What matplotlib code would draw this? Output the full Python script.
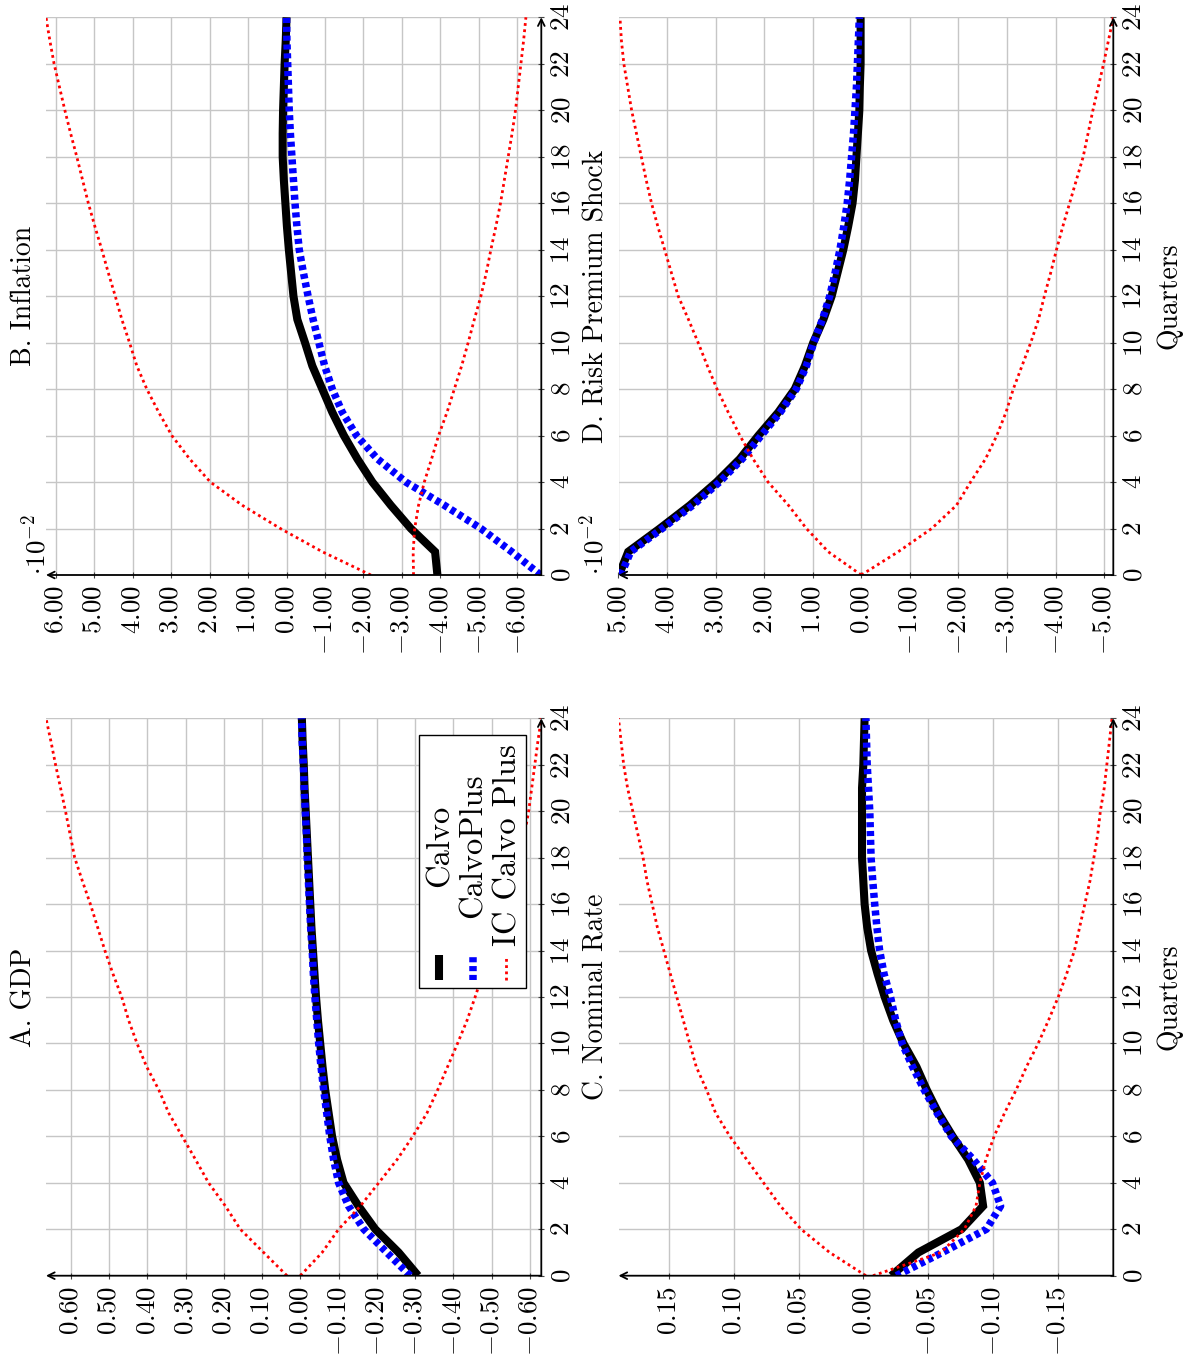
import matplotlib
matplotlib.use("Agg")
import matplotlib.pyplot as plt
from matplotlib.ticker import FixedLocator, FixedFormatter
from matplotlib.patches import Rectangle

plt.rcParams['mathtext.fontset'] = 'cm'
plt.rcParams['font.family'] = ['cmr10', 'DejaVu Serif']
plt.rcParams['axes.formatter.use_mathtext'] = True

# ---------------- data ----------------
quarters = list(range(25))

gdp_calvo = [-0.308, -0.257, -0.196, -0.152, -0.113, -0.096, -0.083, -0.074, -0.065, -0.058, -0.052, -0.046, -0.041,
             -0.037, -0.033, -0.029, -0.026, -0.023, -0.020, -0.017, -0.014, -0.011, -0.009, -0.006, -0.004]
gdp_calvoplus = [-0.287, -0.226, -0.166, -0.126, -0.100, -0.087, -0.077, -0.069, -0.061, -0.054, -0.048, -0.043, -0.038,
                 -0.034, -0.031, -0.027, -0.024, -0.021, -0.018, -0.016, -0.013, -0.010, -0.008, -0.005, -0.003]
gdp_ic_upper = [0.035, 0.096, 0.157, 0.196, 0.240, 0.274, 0.309, 0.344, 0.370, 0.402, 0.427, 0.449, 0.467,
                0.490, 0.511, 0.530, 0.549, 0.570, 0.590, 0.602, 0.614, 0.627, 0.640, 0.652, 0.665]
gdp_ic_lower = [0.000, -0.057, -0.100, -0.157, -0.205, -0.253, -0.294, -0.331, -0.359, -0.385, -0.411, -0.436, -0.457,
                -0.477, -0.497, -0.516, -0.535, -0.553, -0.570, -0.586, -0.597, -0.605, -0.613, -0.621, -0.630]

# inflation, in units of 10^-2
inf_calvo = [-3.92, -3.86, -3.23, -2.71, -2.23, -1.84, -1.49, -1.19, -0.93, -0.67, -0.48, -0.28, -0.18,
             -0.12, -0.06, -0.01, 0.03, 0.07, 0.10, 0.10, 0.09, 0.07, 0.05, 0.02, 0.00]
inf_calvoplus = [-6.60, -5.85, -5.05, -4.10, -3.10, -2.36, -1.82, -1.45, -1.19, -0.99, -0.84, -0.69, -0.56,
                 -0.44, -0.33, -0.27, -0.22, -0.18, -0.14, -0.10, -0.07, -0.05, -0.03, -0.01, 0.00]
inf_ic_upper = [-2.19, -0.93, 0.16, 1.15, 1.98, 2.52, 2.98, 3.32, 3.63, 3.89, 4.08, 4.28, 4.45,
                4.63, 4.80, 4.98, 5.15, 5.30, 5.45, 5.61, 5.76, 5.90, 6.04, 6.15, 6.25]
inf_ic_lower = [-3.30, -3.29, -3.33, -3.43, -3.58, -3.77, -3.95, -4.17, -4.36, -4.55, -4.72, -4.88, -5.05,
                -5.19, -5.31, -5.44, -5.56, -5.66, -5.76, -5.86, -5.95, -6.02, -6.09, -6.16, -6.22]

rate_calvo = [-0.0216, -0.0425, -0.0758, -0.0925, -0.0900, -0.0810, -0.0690, -0.0580, -0.0490, -0.0410, -0.0310,
              -0.0230, -0.0165, -0.0110, -0.0060, -0.0030, -0.0010, 0.0000, 0.0010, 0.0010, 0.0010, 0.0010,
              0.0000, -0.0005, -0.0010]
rate_calvoplus = [-0.0255, -0.0610, -0.0950, -0.1060, -0.0997, -0.0850, -0.0680, -0.0570, -0.0470, -0.0380,
                  -0.0300, -0.0250, -0.0210, -0.0160, -0.0126, -0.0105, -0.0088, -0.0073, -0.0060, -0.0055,
                  -0.0050, -0.0040, -0.0030, -0.0025, -0.0020]
rate_ic_upper = [-0.002, 0.026, 0.048, 0.064, 0.077, 0.090, 0.103, 0.114, 0.121, 0.129, 0.134, 0.139, 0.144,
                 0.149, 0.154, 0.159, 0.163, 0.167, 0.170, 0.174, 0.178, 0.182, 0.185, 0.187, 0.189]
rate_ic_lower = [-0.0075, -0.060, -0.078, -0.087, -0.090, -0.0946, -0.101, -0.109, -0.118, -0.126, -0.135,
                 -0.143, -0.1505, -0.157, -0.163, -0.167, -0.171, -0.175, -0.178, -0.181, -0.183, -0.186,
                 -0.188, -0.190, -0.192]

# risk premium shock, in units of 10^-2
rp_calvo = [4.99, 4.80, 4.15, 3.53, 2.98, 2.50, 2.12, 1.71, 1.37, 1.16, 0.99, 0.78, 0.61,
            0.49, 0.37, 0.27, 0.18, 0.13, 0.10, 0.07, 0.04, 0.03, 0.014, 0.014, 0.014]
rp_calvoplus = [4.95, 4.75, 4.10, 3.47, 2.92, 2.45, 2.06, 1.67, 1.34, 1.13, 0.98, 0.80, 0.65,
                0.54, 0.44, 0.36, 0.29, 0.24, 0.20, 0.16, 0.13, 0.10, 0.08, 0.06, 0.04]
rp_ic_upper = [0.00, 0.68, 1.13, 1.50, 1.92, 2.23, 2.50, 2.74, 2.97, 3.17, 3.36, 3.56, 3.77,
               3.91, 4.05, 4.19, 4.32, 4.43, 4.53, 4.63, 4.73, 4.81, 4.89, 4.94, 4.97]
rp_ic_lower = [0.00, -0.76, -1.45, -1.96, -2.25, -2.56, -2.79, -2.98, -3.13, -3.31, -3.49, -3.65, -3.77,
               -3.90, -4.02, -4.15, -4.29, -4.43, -4.57, -4.67, -4.77, -4.88, -4.99, -5.09, -5.19]

quarter_ticks = [0, 2, 4, 6, 8, 10, 12, 14, 16, 18, 20, 22, 24]
quarter_labels = ['0', '2', '4', '6', '8', '10', '12', '14', '16', '18', '20', '22', '24']

gdp_ticks = [0.6, 0.5, 0.4, 0.3, 0.2, 0.1, 0.0, -0.1, -0.2, -0.3, -0.4, -0.5, -0.6]
gdp_labels = ['0.60', '0.50', '0.40', '0.30', '0.20', '0.10', '0.00', '-0.10', '-0.20', '-0.30', '-0.40', '-0.50', '-0.60']
inf_ticks = [6, 5, 4, 3, 2, 1, 0, -1, -2, -3, -4, -5, -6]
inf_labels = ['6.00', '5.00', '4.00', '3.00', '2.00', '1.00', '0.00', '-1.00', '-2.00', '-3.00', '-4.00', '-5.00', '-6.00']
rate_ticks = [0.15, 0.10, 0.05, 0.0, -0.05, -0.10, -0.15]
rate_labels = ['0.15', '0.10', '0.05', '0.00', '-0.05', '-0.10', '-0.15']
rp_ticks = [5, 4, 3, 2, 1, 0, -1, -2, -3, -4, -5]
rp_labels = ['5.00', '4.00', '3.00', '2.00', '1.00', '0.00', '-1.00', '-2.00', '-3.00', '-4.00', '-5.00']

series_names = ['Calvo', 'CalvoPlus', 'IC Calvo Plus']

# ---------------- styles ----------------
W, H = 1189, 1363
FS = 19.5
calvo_style = dict(color='black', lw=5.8, solid_joinstyle='miter', solid_capstyle='butt')
plus_style = dict(color='blue', lw=5.4, linestyle=(0, (0.68, 0.5)), dash_capstyle='butt')
ic_style = dict(color='red', lw=2.0, linestyle=(0, (1.0, 1.25)), dash_capstyle='butt')

fig = plt.figure(figsize=(W / 100, H / 100), dpi=100)


def px_rect(x0, x1, ytop, ybot):
    return [x0 / W, (H - ybot) / H, (x1 - x0) / W, (ybot - ytop) / H]


def panel(rect, calvo, plus, ic_up, ic_lo, xlim, ticks, labels, title, mult_x=None, quarters_label=False):
    ax = fig.add_axes(rect)
    ax.plot(calvo, quarters, **calvo_style)
    ax.plot(plus, quarters, **plus_style)
    ax.plot(ic_up, quarters, **ic_style)
    ax.plot(ic_lo, quarters, **ic_style)
    ax.set_xlim(*xlim)
    ax.set_ylim(0, 24)
    ax.xaxis.set_major_locator(FixedLocator(ticks))
    ax.xaxis.set_major_formatter(FixedFormatter(['$' + l + '$' for l in labels]))
    ax.yaxis.set_major_locator(FixedLocator(quarter_ticks))
    ax.yaxis.set_major_formatter(FixedFormatter(['$' + l + '$' for l in quarter_labels]))
    ax.grid(True, color='#c6c6c6', lw=1.0)
    ax.set_axisbelow(True)
    for s in ax.spines.values():
        s.set_visible(False)
    ax.tick_params(axis='x', direction='inout', length=5, width=0.8, color='#444444',
                   labelsize=FS, pad=5, labelrotation=90, bottom=True, top=False)
    ax.tick_params(axis='y', direction='inout', length=5, width=0.8, color='#444444',
                   labelsize=FS, pad=4, labelrotation=90, left=False, right=True,
                   labelleft=False, labelright=True)
    plt.setp(ax.get_yticklabels(), va='center')
    # axis lines with arrows
    ax.annotate('', xy=(0, 0), xytext=(1, 0), xycoords='axes fraction', textcoords='axes fraction',
                arrowprops=dict(arrowstyle='->', lw=1.3, color='black', shrinkA=0, shrinkB=0,
                                mutation_scale=12), annotation_clip=False)
    ax.annotate('', xy=(1, 1), xytext=(1, 0), xycoords='axes fraction', textcoords='axes fraction',
                arrowprops=dict(arrowstyle='->', lw=1.3, color='black', shrinkA=0, shrinkB=0,
                                mutation_scale=12), annotation_clip=False)
    ax.text(-0.018, 0.5, title, transform=ax.transAxes, rotation=90, ha='right', va='center', fontsize=20)
    if mult_x is not None:
        ax.text(mult_x, 0.0, r'$\cdot 10^{-2}$', transform=ax.transAxes, rotation=90,
                ha='right', va='bottom', fontsize=FS)
    if quarters_label:
        ax.text(1.086, 0.5, 'Quarters', transform=ax.transAxes, rotation=90, ha='left', va='center', fontsize=20)
    return ax


axA = panel(px_rect(46, 541.3, 718.3, 1275.7), gdp_calvo, gdp_calvoplus, gdp_ic_upper, gdp_ic_lower,
            (0.665, -0.630), gdp_ticks, gdp_labels, 'A. GDP')
axB = panel(px_rect(46, 541.3, 17.3, 575), inf_calvo, inf_calvoplus, inf_ic_upper, inf_ic_lower,
            (6.25, -6.62), inf_ticks, inf_labels, 'B. Inflation', mult_x=0.008)
axC = panel(px_rect(618.5, 1113.3, 718.3, 1275.7), rate_calvo, rate_calvoplus, rate_ic_upper, rate_ic_lower,
            (0.189, -0.193), rate_ticks, rate_labels, 'C. Nominal Rate', quarters_label=True)
axD = panel(px_rect(618.5, 1113.3, 17.3, 575), rp_calvo, rp_calvoplus, rp_ic_upper, rp_ic_lower,
            (5.0, -5.19), rp_ticks, rp_labels, 'D. Risk Premium Shock', mult_x=-0.021, quarters_label=True)

# ---------------- legend (rotated, drawn by hand in panel A) ----------------
axA.add_patch(Rectangle((0.7534, 0.5156), 0.2153, 0.4544, transform=axA.transAxes, facecolor='white',
                        edgecolor='black', lw=1.0, zorder=5, clip_on=False))
row_x = [0.794, 0.862, 0.929]
text_x = [0.795, 0.862, 0.933]
styles = [calvo_style, plus_style, ic_style]
for rx, tx, st, name in zip(row_x, text_x, styles, series_names):
    axA.plot([rx, rx], [0.5305, 0.5753], transform=axA.transAxes, zorder=6, clip_on=False, **st)
    axA.text(tx, 0.7718, name, transform=axA.transAxes, rotation=90, ha='center', va='center',
             fontsize=23.5, zorder=7)

fig.savefig('out.png', dpi=100)
